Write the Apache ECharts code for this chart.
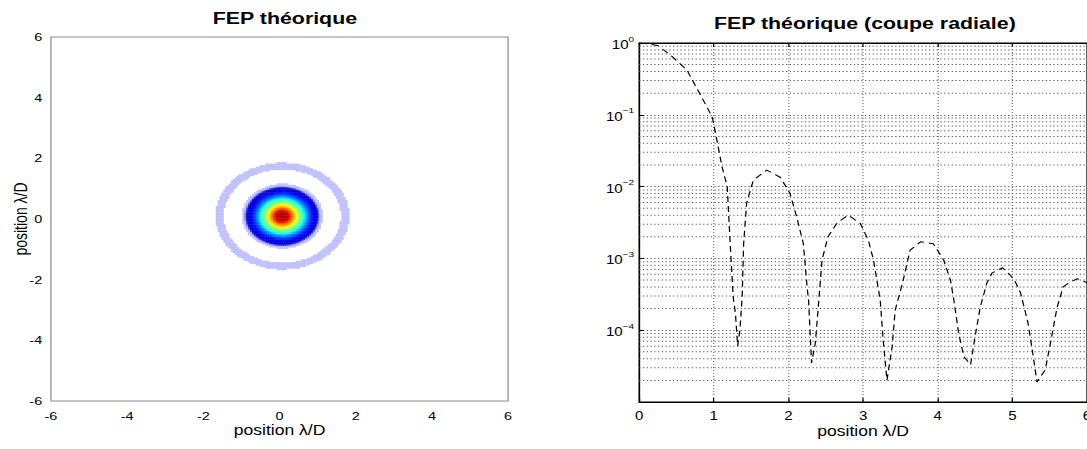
<!DOCTYPE html>
<html>
<head>
<meta charset="utf-8">
<script src="https://cdn.jsdelivr.net/npm/echarts@6/dist/echarts.min.js"></script>
<style>
  html, body { margin: 0; padding: 0; background: #fff; overflow: hidden; }
  #wrap { width: 1087px; height: 449px; overflow: hidden; position: relative; }
  /* the figure is drawn in its native proportions and widened like the exported plot */
  #chart { width: 866px; height: 449px; transform: scaleX(1.2552); transform-origin: 0 0; }
</style>
</head>
<body>
<div id="wrap"><div id="chart"></div></div>
<script>
// Radial cut of the theoretical PSF: position (λ/D) and normalised intensity
const radialPos = [
  0, 0.15, 0.25, 0.44, 0.64, 0.82, 0.98, 1.04, 1.11, 1.18,
  1.22, 1.26, 1.29, 1.32, 1.35, 1.38, 1.40, 1.44, 1.53, 1.71,
  1.89, 2.02, 2.11, 2.20, 2.25, 2.27, 2.31, 2.36, 2.40, 2.45,
  2.53, 2.65, 2.80, 2.96, 3.07, 3.14, 3.20, 3.23, 3.27, 3.32,
  3.39, 3.43, 3.53, 3.63, 3.77, 3.94, 4.08, 4.17, 4.21, 4.28,
  4.35, 4.44, 4.50, 4.57, 4.66, 4.73, 4.87, 5.02, 5.11, 5.21,
  5.28, 5.33, 5.44, 5.51, 5.60, 5.68, 5.78, 5.87, 6.00
];
const radialInt = [
  1.0, 0.96, 0.92, 0.65, 0.42, 0.19, 0.093, 0.045, 0.019, 0.010,
  1.6e-3, 2.9e-4, 1.7e-4, 6.0e-5, 1.0e-4, 2.9e-4, 1.6e-3, 5.9e-3, 0.0123, 0.017,
  0.0135, 0.0081, 3.8e-3, 1.6e-3, 4.0e-4, 2.6e-4, 3.5e-5, 6.6e-5, 2.1e-4, 9.5e-4,
  2.0e-3, 3.1e-3, 4.0e-3, 3.1e-3, 1.8e-3, 9.5e-4, 4.0e-4, 2.6e-4, 7.2e-5, 2.0e-5,
  5.9e-5, 1.9e-4, 4.6e-4, 1.3e-3, 1.7e-3, 1.6e-3, 9.5e-4, 5.0e-4, 2.9e-4, 9.1e-5,
  4.3e-5, 3.3e-5, 8.1e-5, 2.1e-4, 4.6e-4, 6.3e-4, 7.4e-4, 5.2e-4, 3.3e-4, 1.26e-4,
  4.3e-5, 1.9e-5, 2.8e-5, 6.6e-5, 2.1e-4, 4.0e-4, 4.7e-4, 5.2e-4, 4.6e-4
];

// PSF peak position in the image plane (λ/D) and offset of the cut origin from it
const psfCenter = [0.07, 0.1];
const cutOffset = 0.08;

// Image sampling (λ/D) and half extent of the sampled window
const pixelStep = 0.05;
const imageHalfSpan = 3;

// Tick labels
const imageTicks = [-6, -4, -2, 0, 2, 4, 6];
const cutTicks = [0, 1, 2, 3, 4, 5, 6];
const decadeTicks = [1, 1e-1, 1e-2, 1e-3, 1e-4, 1e-5];
const minorMantissas = [2, 3, 4, 5, 6, 7, 8, 9];

const FONT = 'Liberation Sans, Arial, Helvetica, sans-serif';

// intensity of the profile at a given position, log-linear between samples
function profileAt(p) {
  if (p <= radialPos[0]) return radialInt[0];
  const n = radialPos.length;
  if (p >= radialPos[n - 1]) return radialInt[n - 1];
  let k = 1;
  while (radialPos[k] < p) k++;
  const f = (p - radialPos[k - 1]) / (radialPos[k] - radialPos[k - 1]);
  const a = Math.log10(radialInt[k - 1]), b = Math.log10(radialInt[k]);
  return Math.pow(10, a + f * (b - a));
}

// image cells built from the radial profile
const imageCells = [];
const nHalf = Math.round(imageHalfSpan / pixelStep);
for (let i = -nHalf; i <= nHalf; i++) {
  for (let j = -nHalf; j <= nHalf; j++) {
    const x = i * pixelStep, y = j * pixelStep;
    const r = Math.hypot(x - psfCenter[0], y - psfCenter[1]);
    imageCells.push([x, y, profileAt(r + cutOffset)]);
  }
}

const clamp01 = v => Math.max(0, Math.min(1, v));
function jet(t) {
  const r = clamp01(Math.min(4 * t - 1.5, -4 * t + 4.5));
  const g = clamp01(Math.min(4 * t - 0.5, -4 * t + 3.5));
  const b = clamp01(Math.min(4 * t + 0.5, -4 * t + 2.5));
  return [r * 255, g * 255, b * 255];
}
function mix(c1, c2, f) {
  f = clamp01(f);
  return [c1[0] + (c2[0] - c1[0]) * f, c1[1] + (c2[1] - c1[1]) * f, c1[2] + (c2[2] - c1[2]) * f];
}
const rgb = c => 'rgb(' + c.map(Math.round).join(',') + ')';

// colour scale of the image: faint halo for the weak levels, jet above
const LAVENDER = [192, 192, 255];
const MID_BLUE = [40, 40, 255];
const NAVY = [0, 0, 140];
function psfColor(v) {
  if (v < 0.0145) return null;
  if (v < 0.03) return rgb(LAVENDER);
  if (v < 0.05) return rgb(mix(LAVENDER, MID_BLUE, (v - 0.03) / 0.02));
  if (v < 0.075) return rgb(mix(MID_BLUE, NAVY, (v - 0.05) / 0.025));
  return rgb(jet(0.06 + 0.94 * (v - 0.075) / 0.925));
}

const cutData = radialPos.map((x, i) => [x, radialInt[i]]);
const minorLevels = [];
for (let e = -5; e < 0; e++) minorMantissas.forEach(m => minorLevels.push(m * Math.pow(10, e)));

const supDigits = v => {
  const e = Math.round(Math.log10(v));
  return e === 0 ? '0' : '\u2212' + Math.abs(e);
};

const chart = echarts.init(document.getElementById('chart'), null, { renderer: 'svg' });
const dotted = [1, 2];
const GRID_DOT = '#555';

chart.setOption({
  animation: false,
  backgroundColor: '#fff',
  title: [
    { text: 'FEP théorique', left: 222, top: 5, textAlign: 'center',
      textStyle: { fontFamily: FONT, fontSize: 17, fontWeight: 'bold', color: '#000' } },
    { text: 'FEP théorique (coupe radiale)', left: 684, top: 10, textAlign: 'center',
      textStyle: { fontFamily: FONT, fontSize: 17, fontWeight: 'bold', color: '#000' } }
  ],
  grid: [
    { left: 40.6, right: 461.2, top: 37, bottom: 48, outerBoundsMode: 'none',
      show: true, borderColor: '#8c8c8c', borderWidth: 1, backgroundColor: 'transparent' },
    { left: 509.2, right: 0, top: 43, bottom: 47, outerBoundsMode: 'none',
      show: true, borderColor: '#000', borderWidth: 1, backgroundColor: 'transparent' }
  ],
  xAxis: [
    { gridIndex: 0, type: 'value', min: imageTicks[0], max: imageTicks[imageTicks.length - 1], interval: 2,
      axisLine: { show: false }, axisTick: { show: false }, splitLine: { show: false },
      axisLabel: { fontFamily: FONT, fontSize: 11.5, color: '#000', margin: 9,
        formatter: v => imageTicks.includes(v) ? String(v) : '' },
      name: 'position λ/D', nameLocation: 'middle', nameGap: 22, nameMoveOverlap: false,
      nameTextStyle: { fontFamily: FONT, fontSize: 14, color: '#000' } },
    { gridIndex: 1, type: 'value', min: cutTicks[0], max: cutTicks[cutTicks.length - 1], interval: 1,
      axisLine: { show: true, lineStyle: { color: '#000', width: 1 } },
      axisTick: { show: true, inside: true, length: 4, lineStyle: { color: '#000' } },
      splitLine: { show: true, lineStyle: { type: dotted, color: '#777', width: 1 } },
      axisLabel: { fontFamily: FONT, fontSize: 12, color: '#000', margin: 8,
        formatter: v => cutTicks.includes(v) ? String(v) : '' },
      name: 'position λ/D', nameLocation: 'middle', nameGap: 22, nameMoveOverlap: false,
      nameTextStyle: { fontFamily: FONT, fontSize: 14, color: '#000' } },
    { gridIndex: 1, type: 'value', position: 'top', min: cutTicks[0], max: cutTicks[cutTicks.length - 1], interval: 1,
      axisLine: { show: true, lineStyle: { color: '#000', width: 1 } },
      axisTick: { show: true, inside: true, length: 4, lineStyle: { color: '#000' } },
      axisLabel: { show: false }, splitLine: { show: false } }
  ],
  yAxis: [
    { gridIndex: 0, type: 'value', min: imageTicks[0], max: imageTicks[imageTicks.length - 1], interval: 2,
      axisLine: { show: false }, axisTick: { show: false }, splitLine: { show: false },
      axisLabel: { fontFamily: FONT, fontSize: 11.5, color: '#000', margin: 7,
        formatter: v => imageTicks.includes(v) ? String(v) : '' },
      name: 'position λ/D', nameLocation: 'middle', nameGap: 17, nameMoveOverlap: false,
      nameTextStyle: { fontFamily: FONT, fontSize: 14, color: '#000' } },
    { gridIndex: 1, type: 'log', logBase: 10, min: decadeTicks[decadeTicks.length - 1], max: decadeTicks[0],
      axisLine: { show: true, lineStyle: { color: '#000', width: 1 } },
      axisTick: { show: true, inside: true, length: 4, lineStyle: { color: '#000' } },
      splitLine: { show: true, lineStyle: { type: dotted, color: GRID_DOT, width: 1 } },
      axisLabel: {
        margin: 4, color: '#000',
        formatter: v => {
          if (v <= decadeTicks[decadeTicks.length - 1] * 1.0001) return '';
          return '{b|10}{s|' + supDigits(v) + '}';
        },
        rich: {
          b: { fontFamily: FONT, fontSize: 12, lineHeight: 16, verticalAlign: 'bottom', color: '#000' },
          s: { fontFamily: FONT, fontSize: 8, verticalAlign: 'top', color: '#000' }
        }
      } }
  ],
  series: [
    {
      type: 'custom', name: 'FEP', xAxisIndex: 0, yAxisIndex: 0, clip: true, silent: true,
      data: imageCells,
      encode: { x: 0, y: 1 },
      renderItem: (params, api) => {
        const fill = psfColor(api.value(2));
        if (!fill) return null;
        const c = api.coord([api.value(0), api.value(1)]);
        const s = api.size([pixelStep, pixelStep]);
        return {
          type: 'rect',
          shape: { x: c[0] - s[0] / 2, y: c[1] - s[1] / 2, width: s[0] + 0.35, height: s[1] + 0.35 },
          style: { fill: fill, stroke: null }
        };
      }
    },
    {
      // minor log grid lines at 2..9 × 10^k
      type: 'custom', name: 'grille', xAxisIndex: 1, yAxisIndex: 1, silent: true, clip: true,
      data: minorLevels.map(v => [cutTicks[0], v]),
      encode: { x: 0, y: 1 },
      renderItem: (params, api) => {
        const v = api.value(1);
        const a = api.coord([cutTicks[0], v]);
        const b = api.coord([cutTicks[cutTicks.length - 1], v]);
        return {
          type: 'line',
          shape: { x1: a[0], y1: a[1], x2: b[0], y2: b[1] },
          style: { stroke: GRID_DOT, lineWidth: 1, lineDash: dotted }
        };
      }
    },
    {
      type: 'line', name: 'coupe radiale', xAxisIndex: 1, yAxisIndex: 1,
      data: cutData, showSymbol: false, symbol: 'none', clip: true,
      lineStyle: { color: '#000', width: 1, type: [6, 4] }
    }
  ]
});
</script>
</body>
</html>
